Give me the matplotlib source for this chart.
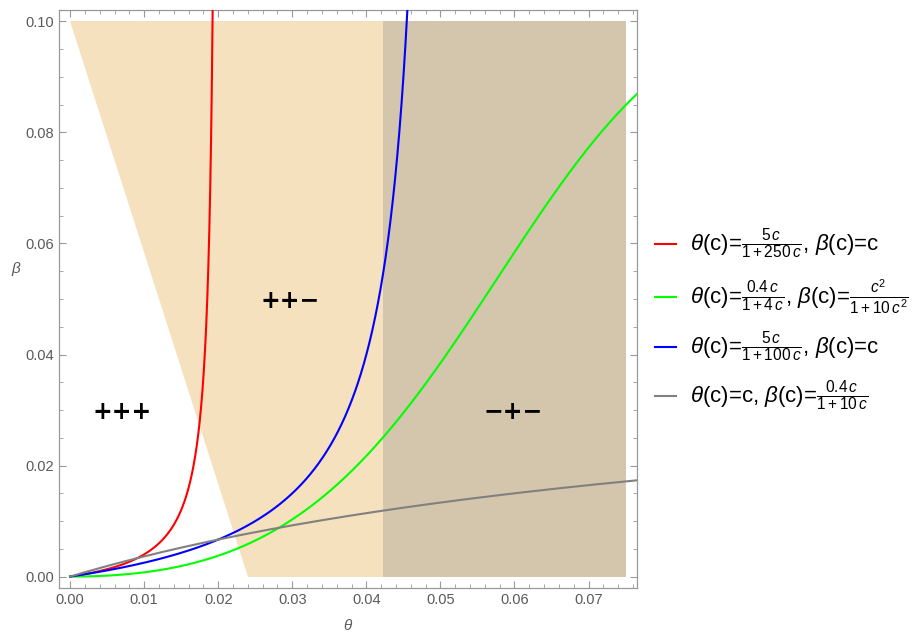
import numpy as np
import matplotlib
matplotlib.use("Agg")
import matplotlib.pyplot as plt
from matplotlib.lines import Line2D

plt.rcParams['font.family'] = ['Liberation Sans', 'DejaVu Sans']
plt.rcParams['mathtext.fontset'] = 'custom'
plt.rcParams['mathtext.rm'] = 'Liberation Sans'
plt.rcParams['mathtext.it'] = 'Liberation Sans:italic'
plt.rcParams['mathtext.bf'] = 'Liberation Sans:bold'

# ---- data ----
# shaded sign regions (theta, beta polygons)
light_theta = [0.0, 0.0422, 0.0422, 0.024]
light_beta = [0.1, 0.1, 0.0, 0.0]
dark_theta = [0.0422, 0.075, 0.075, 0.0422]
dark_beta = [0.1, 0.1, 0.0, 0.0]

# region sign labels
region_labels = ["+++", "++\u2212", "\u2212+\u2212"]
region_theta = [0.0070, 0.0297, 0.0598]
region_beta = [0.0297, 0.0497, 0.0297]

# parametric curves, coefficients as given in the legend
red_a, red_b = 5.0, 250.0          # theta = a c/(1+b c), beta = c
blue_a, blue_b = 5.0, 100.0        # theta = a c/(1+b c), beta = c
green_a, green_b, green_d = 0.4, 4.0, 10.0   # theta = a c/(1+b c), beta = c^2/(1+d c^2)
gray_a, gray_b = 0.4, 10.0         # theta = c, beta = a c/(1+b c)

c_red = np.linspace(0, 0.104, 600)
c_blue = np.linspace(0, 0.104, 600)
c_green = np.linspace(0, 0.85, 600)
c_gray = np.linspace(0, 0.077, 300)

labels = [
    r'$\theta$(c)=$\frac{5\,c}{1+250\,c}$, $\beta$(c)=c',
    r'$\theta$(c)=$\frac{0.4\,c}{1+4\,c}$, $\beta$(c)=$\frac{c^2}{1+10\,c^2}$',
    r'$\theta$(c)=$\frac{5\,c}{1+100\,c}$, $\beta$(c)=c',
    r'$\theta$(c)=c, $\beta$(c)=$\frac{0.4\,c}{1+10\,c}$',
]
colors = ['#ff0000', '#00ff00', '#0000ff', '#808080']

# ---- figure ----
fig = plt.figure(figsize=(9.17, 6.33), dpi=100)
ax = fig.add_axes([59/917, 1-587.7/633, (636.7-59)/917, (587.7-10.3)/633])

ax.fill(light_theta, light_beta, color='#f5e1bd', lw=0, zorder=1)
ax.fill(dark_theta, dark_beta, color='#d4c6ad', lw=0, zorder=1)

red_th = red_a*c_red/(1+red_b*c_red); red_be = c_red
green_th = green_a*c_green/(1+green_b*c_green); green_be = c_green**2/(1+green_d*c_green**2)
blue_th = blue_a*c_blue/(1+blue_b*c_blue); blue_be = c_blue
gray_th = c_gray; gray_be = gray_a*c_gray/(1+gray_b*c_gray)

for th, be, col in zip([red_th, green_th, blue_th, gray_th],
                       [red_be, green_be, blue_be, gray_be], colors):
    ax.plot(th, be, color=col, lw=1.5, zorder=3)

for t, x, y in zip(region_labels, region_theta, region_beta):
    ax.text(x, y, t, fontsize=17, fontweight='bold', family='DejaVu Sans',
            ha='center', va='center', color='black', zorder=4)

ax.set_xlim(-0.0015, 0.0765)
ax.set_ylim(-0.002, 0.102)
ax.set_xticks(np.arange(0, 0.0701, 0.01))
ax.set_xticklabels([f"{v:.2f}" for v in np.arange(0, 0.0701, 0.01)])
ax.set_yticks(np.arange(0, 0.1001, 0.02))
ax.set_yticklabels([f"{v:.2f}" for v in np.arange(0, 0.1001, 0.02)])
ax.set_xticks(np.arange(0, 0.0761, 0.002), minor=True)
ax.set_yticks(np.arange(0, 0.1001, 0.005), minor=True)
ax.tick_params(which='both', direction='in', top=True, right=True,
               color='#999999', labelcolor='#5a5a5a', labelsize=10.5)
ax.tick_params(which='major', length=5, width=0.8)
ax.tick_params(which='minor', length=3, width=0.6)
for s in ax.spines.values():
    s.set_color('#999999')
    s.set_linewidth(0.9)

fig.text(348/917, 1-626/633, r'$\theta$', fontsize=11, color='#5a5a5a', ha='center', va='center')
fig.text(16/917, 1-269/633, r'$\beta$', fontsize=11, color='#5a5a5a', ha='center', va='center')

# legend
leg_y = [244, 297, 347, 396]
for y, lab, col in zip(leg_y, labels, colors):
    fig.add_artist(Line2D([655/917, 676/917], [1-y/633, 1-y/633], color=col, lw=1.5))
    fig.text(690/917, 1-y/633, lab, fontsize=16, color='black', ha='left', va='center')

fig.savefig('out.png', dpi=100)
